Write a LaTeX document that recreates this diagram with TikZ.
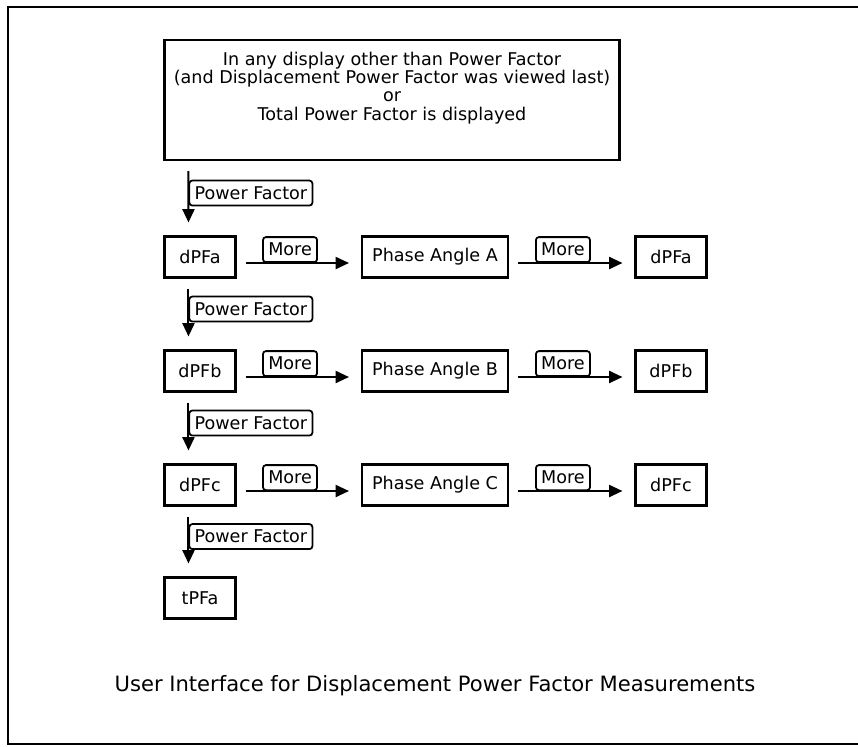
\documentclass[tikz,border=0pt]{standalone}
\usepackage{fontspec}
\setmainfont{DejaVu Sans}
\usetikzlibrary{arrows.meta,calc}
\tikzset{box/.style={draw,line width=1.75pt,minimum height=1.23cm,inner sep=0pt},
 dpfbox/.style={box,minimum width=2.13cm},
 anglebox/.style={box,minimum width=4.38cm},
 key/.style={draw,rounded corners=2.5pt,line width=1.5pt,minimum height=.75cm,inner xsep=4.5pt,inner ysep=0pt},
 flow/.style={-{Triangle[length=.4cm,width=.36cm]},line width=1.7pt},
 every node/.style={font=\fontsize{15}{15.5}\selectfont}}
\begin{document}
\begin{tikzpicture}[x=.03cm,y=-.03cm]
\useasboundingbox (0,0) rectangle (858,746);
\draw[line width=2.4pt] (859,7)--(8,7)--(8,744)--(859,744);
\node[box,minimum width=13.65cm,minimum height=3.6cm,align=center] (start) at (392,100)
 {In any display other than Power Factor\\(and Displacement Power Factor was viewed last)\\or\\Total Power Factor is displayed\\[8pt]\mbox{}};
\foreach \r/\ph/\ch in {1/A/a,2/B/b,3/C/c} {
\pgfmathsetmacro\row{143+114*\r}
\node[dpfbox] (dpf\r) at (200,\row) {dPF\ch};
\node[anglebox] (angle\r) at (435,\row) {Phase Angle \ph};
\node[dpfbox] (back\r) at (671,\row) {dPF\ch};
\draw[flow,shorten <=.27cm,shorten >=.36cm] ($(dpf\r.east)+(0,6)$)--($(angle\r.west)+(0,6)$)
 node[key,pos=.43,anchor=south] {More};
\draw[flow,shorten <=.27cm,shorten >=.36cm] ($(angle\r.east)+(0,6)$)--($(back\r.west)+(0,6)$)
 node[key,pos=.43,anchor=south] {More};
}
\node[dpfbox] (tpf) at (200,598) {tPFa};
\foreach \a/\b in {start/dpf1,dpf1/dpf2,dpf2/dpf3,dpf3/tpf}
\draw[flow,shorten <=.3cm,shorten >=.39cm] ($(\a.south west)+(25,0)$)--($(\b.north west)+(25,0)$)
 node[key,pos=.43,anchor=west] {Power Factor};
\node[font=\fontsize{18}{20}\selectfont] (caption) at (435,686) {User Interface for Displacement Power Factor Measurements};
\end{tikzpicture}
\end{document}
